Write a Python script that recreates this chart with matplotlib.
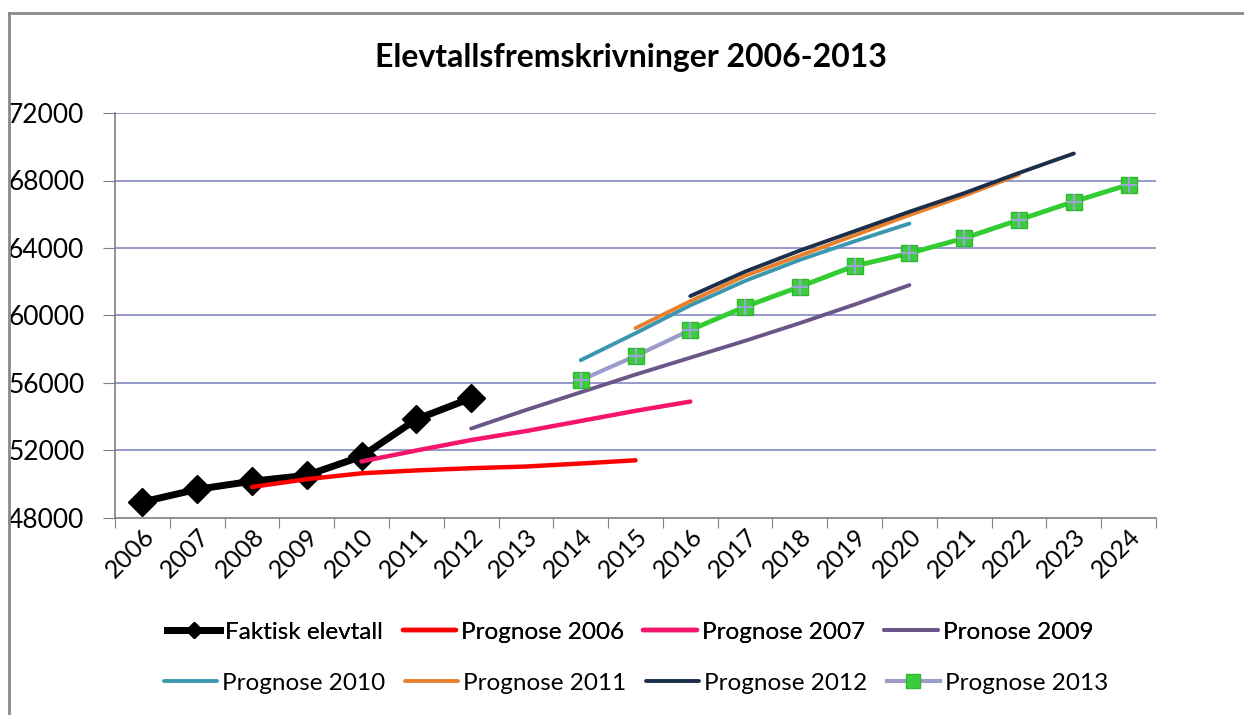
import numpy as np
import matplotlib
matplotlib.use('Agg')
import matplotlib.pyplot as plt
from matplotlib.lines import Line2D

plt.rcParams['font.family'] = ['Lato', 'DejaVu Sans']

# --- data ---
years = list(range(2006, 2025))

faktisk_years = [2006, 2007, 2008, 2009, 2010, 2011, 2012]
faktisk = [48950, 49700, 50180, 50530, 51650, 53850, 55100]

p2006_years = [2008, 2009, 2010, 2011, 2012, 2013, 2014, 2015]
p2006 = [49840, 50300, 50650, 50820, 50950, 51050, 51230, 51420]

p2007_years = [2010, 2011, 2012, 2013, 2014, 2015, 2016]
p2007 = [51350, 52000, 52620, 53150, 53750, 54350, 54900]

p2009_years = [2012, 2013, 2014, 2015, 2016, 2017, 2018, 2019, 2020]
p2009 = [53300, 54400, 55450, 56500, 57500, 58500, 59550, 60650, 61800]

p2010_years = [2014, 2015, 2016, 2017, 2018, 2019, 2020]
p2010 = [57350, 58950, 60600, 62050, 63300, 64400, 65450]

p2011_years = [2015, 2016, 2017, 2018, 2019, 2020, 2021, 2022]
p2011 = [59250, 60850, 62350, 63550, 64750, 65950, 67100, 68350]

p2012_years = [2016, 2017, 2018, 2019, 2020, 2021, 2022, 2023]
p2012 = [61150, 62600, 63850, 65000, 66150, 67250, 68450, 69600]

p2013_years = [2014, 2015, 2016, 2017, 2018, 2019, 2020, 2021, 2022, 2023, 2024]
p2013 = [56170, 57600, 59140, 60520, 61710, 62940, 63690, 64580, 65670, 66750, 67750]

yticks = [48000, 52000, 56000, 60000, 64000, 68000, 72000]

# --- figure ---
fig = plt.figure(figsize=(12.44, 7.15), dpi=100)
ax = fig.add_axes([115/1244, 1-518/715, (1156-115)/1244, (518-113)/715])

grid_c = '#8c92c8'
for v in yticks[1:]:
    ax.axhline(v, color=grid_c, lw=1.3, zorder=0)

ax.plot(faktisk_years, faktisk, color='black', lw=5, marker='D', ms=14,
        mfc='black', mec='black', zorder=3, label='Faktisk elevtall')
ax.plot(p2006_years, p2006, color='#ff0000', lw=3.2, solid_capstyle='round', zorder=4, label='Prognose 2006')
ax.plot(p2007_years, p2007, color='#f5156a', lw=3.2, solid_capstyle='round', zorder=4, label='Prognose 2007')
ax.plot(p2009_years, p2009, color='#6a5688', lw=2.8, solid_capstyle='round', zorder=4, label='Pronose 2009')
ax.plot(p2010_years, p2010, color='#3b97b0', lw=2.8, solid_capstyle='round', zorder=4, label='Prognose 2010')
ax.plot(p2011_years, p2011, color='#e8802e', lw=2.8, solid_capstyle='round', zorder=4, label='Prognose 2011')
ax.plot(p2012_years, p2012, color='#1b2f4a', lw=2.8, solid_capstyle='round', zorder=5, label='Prognose 2012')

# Prognose 2013: lavender line for the first segments, green after
ax.plot(p2013_years[:3], p2013[:3], color='#9c9ccc', lw=3, zorder=5)
ax.plot(p2013_years[2:], p2013[2:], color='#33cc33', lw=3.5, zorder=5)
ax.plot(p2013_years, p2013, ls='none', marker='s', ms=12, mfc='#3dcc3d', mec='#2fb82f', zorder=6)
ax.plot(p2013_years, p2013, ls='none', marker='+', ms=11, mew=1.5, color='#9aa6d8', zorder=7)

ax.set_xlim(2005.5, 2024.5)
ax.set_ylim(48000, 72000)
ax.set_yticks(yticks)
ax.set_yticklabels([str(v) for v in yticks], fontsize=19)
ax.tick_params(axis='y', length=9, color='#808080', pad=13)

ax.set_xticks(np.arange(2005.5, 2025.5, 1))
ax.set_xticklabels([])
ax.tick_params(axis='x', which='major', length=7, color='#808080')
ax.set_xticks(years, minor=True)
ax.set_xticklabels([str(y) for y in years], minor=True, fontsize=18,
                   rotation=45, ha='right', va='top', rotation_mode='anchor')
ax.tick_params(axis='x', which='minor', length=0, pad=5)

for s in ['top', 'right']:
    ax.spines[s].set_visible(False)
for s in ['left', 'bottom']:
    ax.spines[s].set_color('#808080')
    ax.spines[s].set_linewidth(1.2)

fig.text(631/1244, 1-57/715, 'Elevtallsfremskrivninger 2006-2013', ha='center', va='center',
         fontsize=23, fontweight='bold')

# figure frame (left and top edges)
fig.add_artist(Line2D([9/1244, 9/1244], [0, 1-13/715], transform=fig.transFigure, color='#8a8a8a', lw=2))
fig.add_artist(Line2D([9/1244, 1], [1-13/715, 1-13/715], transform=fig.transFigure, color='#8a8a8a', lw=2))

# legend, two rows
handles, labels = ax.get_legend_handles_labels()
h13 = Line2D([], [], color='#9c9ccc', lw=3, marker='s', ms=10, mfc='#3dcc3d', mec='#2fb82f')
leg1 = fig.legend(handles[:4], labels[:4], loc='center', bbox_to_anchor=(630/1244, 1-632/715),
                  ncol=4, frameon=False, fontsize=17.5, handlelength=2.2, handletextpad=0.2,
                  columnspacing=0.8, borderpad=0, markerscale=0.6)
fig.legend(handles[4:] + [h13], labels[4:] + ['Prognose 2013'], loc='center',
           bbox_to_anchor=(636/1244, 1-683/715), ncol=4, frameon=False, fontsize=17.5,
           handlelength=2.2, handletextpad=0.2, columnspacing=0.8, borderpad=0)
fig.add_artist(leg1)

fig.savefig('out.png', dpi=100)
